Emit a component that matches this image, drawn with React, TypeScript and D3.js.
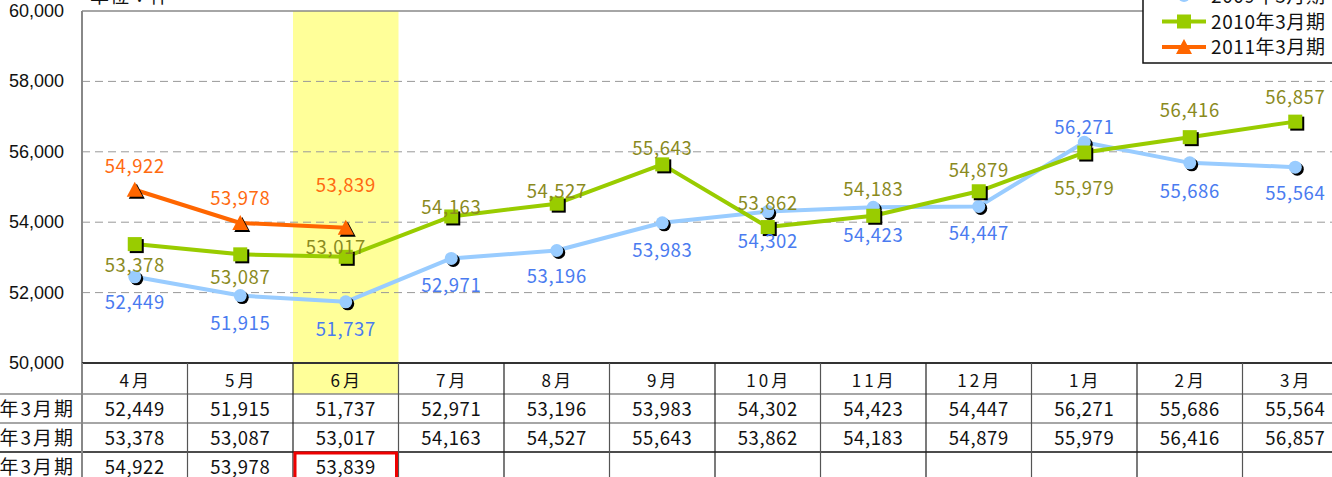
import React from "react";
import * as d3 from "d3";

const months = ["4月", "5月", "6月", "7月", "8月", "9月", "10月", "11月", "12月", "1月", "2月", "3月"];
const seriesNames = ["2009年3月期", "2010年3月期", "2011年3月期"];
const fy2009 = [52449, 51915, 51737, 52971, 53196, 53983, 54302, 54423, 54447, 56271, 55686, 55564];
const fy2010 = [53378, 53087, 53017, 54163, 54527, 55643, 53862, 54183, 54879, 55979, 56416, 56857];
const fy2011 = [54922, 53978, 53839];
const yTicks = [50000, 52000, 54000, 56000, 58000, 60000];
const unitLabel = "単位：件";
const highlightMonth = "6月";

// label vertical offsets (layout only)
const dy2009 = [26, 28, 28, 28, 26, 28, 30, 29, 28, -14, 29, 27];
const dy2010 = [22, 24, -9, -8, -12, -15, -23, -26, -20, 36, -26, -24];
const dy2011 = [-23, -24, -42];

const W = 1332, H = 477;
const left = 82, top = 11, bottom = 363;
const colW = 105.5;

export default function App() {
  const x = d3.scaleBand<string>().domain(months).range([left, left + colW * 12]).padding(0);
  const cx = (m: string) => (x(m) as number) + x.bandwidth() / 2;
  const y = d3.scaleLinear().domain([50000, 60000]).range([bottom, top]);
  const fmt = d3.format(",");
  const line = d3.line<number>().x((_, i) => cx(months[i])).y((d) => y(d));

  const jp = "'Noto Sans CJK JP', sans-serif";
  const c2009 = "#99CCFF", c2010 = "#99CC00", c2011 = "#FF6600";
  const l2009 = "#4A7BF0", l2010 = "#8A8A1E", l2011 = "#FF6A10";

  const rowY = [363, 394, 423, 452, 481];
  const hx = x(highlightMonth) as number;

  const circle = (px: number, py: number, fill: string, k: string) => (
    <g key={k}>
      <circle cx={px + 2} cy={py + 2} r={6.5} fill="#000" />
      <circle cx={px} cy={py} r={6.5} fill={fill} />
    </g>
  );
  const square = (px: number, py: number, fill: string, k: string) => (
    <g key={k}>
      <rect x={px - 7 + 2} y={py - 7 + 2} width={14} height={14} fill="#000" />
      <rect x={px - 7} y={py - 7} width={14} height={14} fill={fill} />
    </g>
  );
  const tri = (px: number, py: number, fill: string, k: string) => {
    const p = (ox: number, oy: number) => `${px - 8 + ox},${py + 7 + oy} ${px + 8 + ox},${py + 7 + oy} ${px + ox},${py - 8 + oy}`;
    return (
      <g key={k}>
        <polygon points={p(2, 2)} fill="#000" />
        <polygon points={p(0, 0)} fill={fill} />
      </g>
    );
  };

  const tableRows = [fy2009, fy2010, fy2011];
  const labelFont = { fontFamily: jp, fontSize: 18.5, letterSpacing: 0.6 } as const;

  return (
    <svg width={W} height={H} style={{ position: "absolute", left: 0, top: 0, background: "#fff" }}>
      {/* highlight */}
      <rect x={hx} y={top} width={x.bandwidth()} height={394 - top} fill="#FFFF99" />
      {/* gridlines */}
      {yTicks.filter((t) => t > 50000 && t < 60000).map((t) => (
        <line key={t} x1={left} x2={W} y1={y(t)} y2={y(t)} stroke="#999" strokeDasharray="8,5" strokeWidth={1} />
      ))}
      {/* plot frame */}
      <line x1={left} x2={W} y1={top} y2={top} stroke="#888" strokeWidth={1.5} />
      <line x1={left} x2={left} y1={top} y2={bottom} stroke="#888" strokeWidth={2} />
      {/* y tick labels */}
      {yTicks.map((t) => (
        <text key={t} x={64} y={y(t) + 6} textAnchor="end" fontFamily="'Liberation Sans', Arial, sans-serif" fontSize={18} fill="#111">
          {fmt(t)}
        </text>
      ))}
      <text x={90} y={3} fontFamily={jp} fontSize={19} letterSpacing={1} fill="#111">{unitLabel}</text>

      {/* table */}
      <line x1={left} x2={W} y1={rowY[0]} y2={rowY[0]} stroke="#333" strokeWidth={2} />
      <line x1={0} x2={W} y1={rowY[1]} y2={rowY[1]} stroke="#888" strokeWidth={1.5} />
      <line x1={0} x2={W} y1={rowY[2]} y2={rowY[2]} stroke="#888" strokeWidth={1.5} />
      <line x1={0} x2={W} y1={rowY[3]} y2={rowY[3]} stroke="#111" strokeWidth={1.5} />
      <line x1={left} x2={left} y1={rowY[0]} y2={H} stroke="#888" strokeWidth={2} />
      {months.map((m, i) => (
        <line key={"v" + m} x1={(x(m) as number) + colW} x2={(x(m) as number) + colW} y1={rowY[0]} y2={H} stroke={i % 2 === 0 ? "#555" : "#222"} strokeWidth={1.2} />
      ))}
      {months.map((m) => (
        <text key={"h" + m} x={cx(m) + 1} y={387} textAnchor="middle" fontFamily={jp} fontSize={17} letterSpacing={3} fill="#111">{m}</text>
      ))}
      {seriesNames.map((s, r) => (
        <text key={s} x={75} y={rowY[r + 1] + 22} textAnchor="end" fontFamily={jp} fontSize={19} letterSpacing={2} fill="#111">{s}</text>
      ))}
      {tableRows.map((row, r) =>
        row.map((v, i) => (
          <text key={r + "-" + i} x={cx(months[i])} y={rowY[r + 1] + 22} textAnchor="middle" {...labelFont} fill="#111">
            {fmt(v)}
          </text>
        ))
      )}
      <rect x={hx + 2} y={rowY[3] + 1} width={x.bandwidth() - 4} height={40} fill="none" stroke="#EE0000" strokeWidth={3} />

      {/* lines */}
      <path d={line(fy2009) || ""} fill="none" stroke={c2009} strokeWidth={4} strokeLinejoin="round" />
      <path d={line(fy2010) || ""} fill="none" stroke={c2010} strokeWidth={4} strokeLinejoin="round" />
      <path d={line(fy2011) || ""} fill="none" stroke={c2011} strokeWidth={4} strokeLinejoin="round" />
      {fy2009.map((v, i) => circle(cx(months[i]), y(v), c2009, "c" + i))}
      {fy2010.map((v, i) => square(cx(months[i]), y(v), c2010, "s" + i))}
      {fy2011.map((v, i) => tri(cx(months[i]), y(v), c2011, "t" + i))}

      {/* data labels */}
      {fy2009.map((v, i) => (
        <text key={"l9" + i} x={cx(months[i])} y={y(v) + dy2009[i] + 6} textAnchor="middle" {...labelFont} fill={l2009}>{fmt(v)}</text>
      ))}
      {fy2010.map((v, i) => (
        <text key={"l10" + i} x={cx(months[i]) + (i === 2 ? -10 : 0)} y={y(v) + dy2010[i] + 6} textAnchor="middle" {...labelFont} fill={l2010}>{fmt(v)}</text>
      ))}
      {fy2011.map((v, i) => (
        <text key={"l11" + i} x={cx(months[i])} y={y(v) + dy2011[i] + 6} textAnchor="middle" {...labelFont} fill={l2011}>{fmt(v)}</text>
      ))}

      {/* legend */}
      <rect x={1143} y={-20} width={220} height={83} fill="#fff" stroke="#111" strokeWidth={1.5} />
      {[c2009, c2010, c2011].map((c, i) => {
        const ly = -4 + i * 25.5;
        return (
          <g key={"lg" + i}>
            <line x1={1162} x2={1206} y1={ly} y2={ly} stroke={c} strokeWidth={4} />
            {i === 0 ? <circle cx={1184} cy={ly} r={6} fill={c} /> : i === 1 ? <rect x={1177} y={ly - 7} width={14} height={14} fill={c} /> : <polygon points={`${1176},${ly + 7} ${1192},${ly + 7} ${1184},${ly - 8}`} fill={c} />}
            <text x={1211} y={ly + 7} fontFamily={jp} fontSize={19} letterSpacing={0.6} fill="#111">{seriesNames[i]}</text>
          </g>
        );
      })}
    </svg>
  );
}
